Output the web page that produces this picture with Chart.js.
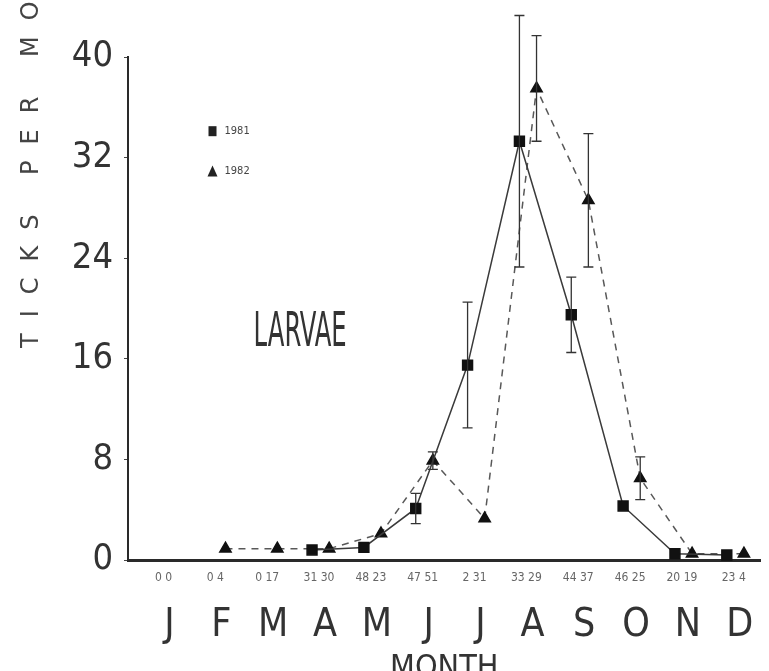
<!DOCTYPE html>
<html><head><meta charset="utf-8">
<script src="https://cdn.jsdelivr.net/npm/chart.js@4.4.0/dist/chart.umd.min.js"></script>
<style>html,body{margin:0;padding:0;background:#fff;}</style>
</head><body>
<canvas id="c" width="769" height="671"></canvas>
<script>
// ---- data ----
const months = ['J','F','M','A','M','J','J','A','S','O','N','D'];
const sampleSizes = ['0 0','0 4','0 17','31 30','48 23','47 51','2 31','33 29','44 37','46 25','20 19','23 4'];
const yTicks = [0, 8, 16, 24, 32, 40];
const larvae1981 = [null, null, null, 0.8, 1.0, 4.1, 15.5, 33.3, 19.5, 4.3, 0.5, 0.4];
const err1981    = [null, null, null, 0,   0,   1.2, 5.0,  10.0, 3.0,  0,   0,   0];
const larvae1982 = [null, 0.9, 0.9, 0.9, 2.1, 7.9, 3.3, 37.5, 28.6, 6.5, 0.5, 0.5];
const err1982    = [null, 0,   0,   0,   0,   0.7, 0,   4.2,  5.3,  1.7, 0,   0];
const seriesLabels = ['1981', '1982'];

// ---- styling ----
const NARROW = "'Liberation Sans Narrow', 'DejaVu Sans Condensed', sans-serif";
const INK = '#2a2a2a';
const OFF81 = -0.25, OFF82 = 0.08;

function toPoints(vals, off) {
  return vals.map((v, i) => ({ x: i + off, y: v }));
}

const errorBars = {
  id: 'errorBars',
  afterDatasetsDraw(chart) {
    const ctx = chart.ctx, ys = chart.scales.y;
    chart.data.datasets.forEach((ds, di) => {
      const meta = chart.getDatasetMeta(di);
      const errs = ds.errors || [];
      meta.data.forEach((el, i) => {
        const v = ds.data[i].y, e = errs[i];
        if (v == null || !e) return;
        const yt = ys.getPixelForValue(v + e), yb = ys.getPixelForValue(v - e);
        ctx.save();
        ctx.strokeStyle = '#333';
        ctx.lineWidth = 1.3;
        ctx.beginPath();
        ctx.moveTo(el.x, yt); ctx.lineTo(el.x, yb);
        ctx.moveTo(el.x - 5, yt); ctx.lineTo(el.x + 5, yt);
        ctx.moveTo(el.x - 5, yb); ctx.lineTo(el.x + 5, yb);
        ctx.stroke();
        ctx.restore();
      });
    });
  }
};

const annotations = {
  id: 'annotations',
  afterDraw(chart) {
    const ctx = chart.ctx, xs = chart.scales.x, ys = chart.scales.y;
    // y axis title (top is cut off in the reference)
    ctx.save();
    ctx.translate(32, 348);
    ctx.rotate(-Math.PI / 2);
    ctx.font = "24px 'DejaVu Sans'";
    ctx.letterSpacing = '16px';
    ctx.fillStyle = '#444';
    ctx.textAlign = 'left';
    ctx.textBaseline = 'middle';
    ctx.fillText('TICKS PER MO', 0, 0);
    ctx.restore();

    // LARVAE label
    ctx.save();
    ctx.font = '48px ' + NARROW;
    const w = ctx.measureText('LARVAE').width;
    const cx = xs.getPixelForValue(2.52), cy = ys.getPixelForValue(18.0);
    ctx.translate(cx, cy);
    ctx.scale(93 / w, 1);
    ctx.fillStyle = '#333';
    ctx.textAlign = 'center';
    ctx.textBaseline = 'middle';
    ctx.fillText('LARVAE', 0, 0);
    ctx.restore();

    // legend
    const lx = xs.getPixelForValue(0.83);
    const y1 = ys.getPixelForValue(34.1), y2 = ys.getPixelForValue(30.9);
    ctx.save();
    ctx.fillStyle = '#222';
    ctx.fillRect(lx - 4, y1 - 5, 8, 10);
    ctx.beginPath();
    ctx.moveTo(lx, y2 - 6); ctx.lineTo(lx + 5, y2 + 5); ctx.lineTo(lx - 5, y2 + 5); ctx.closePath();
    ctx.fill();
    ctx.font = '11px ' + NARROW;
    ctx.textBaseline = 'middle';
    ctx.fillStyle = '#444';
    ctx.fillText(seriesLabels[0], lx + 12, y1);
    ctx.fillText(seriesLabels[1], lx + 12, y2);
    ctx.restore();
  }
};

new Chart(document.getElementById('c'), {
  type: 'line',
  data: {
    datasets: [
      {
        label: seriesLabels[0],
        data: toPoints(larvae1981, OFF81),
        errors: err1981,
        borderColor: '#3a3a3a',
        borderWidth: 1.5,
        pointStyle: 'rect',
        pointRadius: 7,
        pointBackgroundColor: '#111',
        pointBorderColor: '#111',
        tension: 0,
        clip: false
      },
      {
        label: seriesLabels[1],
        data: toPoints(larvae1982, OFF82),
        errors: err1982,
        borderColor: '#585858',
        borderWidth: 1.5,
        borderDash: [7, 6],
        pointStyle: 'triangle',
        pointRadius: 6.5,
        pointBackgroundColor: '#111',
        pointBorderColor: '#111',
        tension: 0,
        clip: false
      }
    ]
  },
  options: {
    responsive: false,
    animation: false,
    layout: { padding: { top: 57, right: 6, left: 0, bottom: 0 } },
    plugins: { legend: { display: false }, tooltip: { enabled: false } },
    scales: {
      xn: {
        type: 'linear', position: 'bottom', weight: 0,
        min: -0.8, max: 11.4,
        afterBuildTicks(s) { s.ticks = months.map((m, i) => ({ value: i })); },
        ticks: {
          callback: (v) => sampleSizes[v],
          font: { size: 12, family: NARROW },
          color: '#666',
          padding: 3,
          labelOffset: -6,
          maxRotation: 0, autoSkip: false
        },
        grid: { display: false },
        border: { display: true, width: 3, color: INK },
        afterFit(s) { s.height = 28; }
      },
      x: {
        type: 'linear', position: 'bottom', weight: 1,
        min: -0.8, max: 11.4,
        afterBuildTicks(s) { s.ticks = months.map((m, i) => ({ value: i })); },
        ticks: {
          callback: (v) => months[v],
          font: { size: 39, family: NARROW },
          color: '#333',
          padding: 6,
          maxRotation: 0, autoSkip: false
        },
        grid: { display: false },
        border: { display: false },
        title: {
          display: true, text: 'MONTH',
          font: { size: 32, family: NARROW },
          color: '#333',
          padding: { top: 0, bottom: -17 }
        },
        afterFit(s) { s.height = 83; }
      },
      y: {
        type: 'linear', position: 'left',
        min: 0, max: 40,
        afterBuildTicks(s) { s.ticks = yTicks.map(v => ({ value: v })); },
        ticks: {
          font: { size: 36, family: NARROW },
          color: '#333',
          padding: 11
        },
        grid: { display: true, drawOnChartArea: false, drawTicks: true, tickLength: 4, color: '#444' },
        border: { display: true, width: 2, color: INK },
        afterFit(s) { s.width = 128; }
      }
    }
  },
  plugins: [errorBars, annotations]
});
</script>
</body></html>
